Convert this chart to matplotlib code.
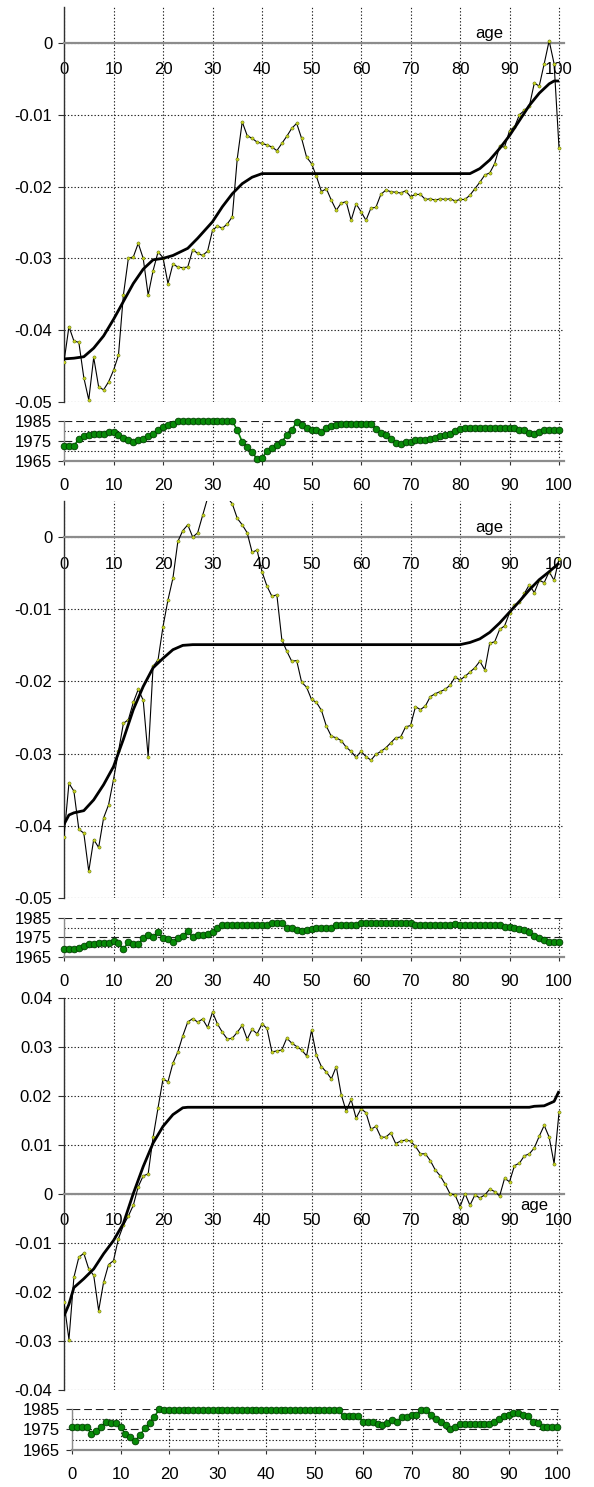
import numpy as np
import matplotlib
matplotlib.use("Agg")
import matplotlib.pyplot as plt
from matplotlib.ticker import FuncFormatter

plt.rcParams['font.family'] = ['Liberation Sans', 'DejaVu Sans']

# ---- data ----
ages = list(range(101))

p1_raw = [-0.0444, -0.0395, -0.0415, -0.0417, -0.0466, -0.0497, -0.0438, -0.0479, -0.0483, -0.0472,
          -0.0456, -0.0435, -0.0351, -0.0300, -0.0298, -0.0279, -0.0300, -0.0351, -0.0317, -0.0291,
          -0.0299, -0.0335, -0.0308, -0.0312, -0.0313, -0.0312, -0.0288, -0.0293, -0.0296, -0.0290,
          -0.0261, -0.0255, -0.0258, -0.0252, -0.0242, -0.0161, -0.0110, -0.0129, -0.0133, -0.0138,
          -0.0140, -0.0142, -0.0145, -0.0150, -0.0140, -0.0130, -0.0119, -0.0112, -0.0133, -0.0159,
          -0.0168, -0.0186, -0.0207, -0.0203, -0.0219, -0.0233, -0.0223, -0.0221, -0.0247, -0.0224,
          -0.0235, -0.0247, -0.0230, -0.0229, -0.0211, -0.0205, -0.0207, -0.0208, -0.0209, -0.0206,
          -0.0214, -0.0211, -0.0211, -0.0218, -0.0217, -0.0219, -0.0217, -0.0218, -0.0217, -0.0220,
          -0.0218, -0.0218, -0.0212, -0.0203, -0.0194, -0.0184, -0.0181, -0.0168, -0.0144, -0.0145,
          -0.0122, -0.0117, -0.0100, -0.0094, -0.0088, -0.0056, -0.0060, -0.0029, 0.0003, -0.0029,
          -0.0147]
p1_smooth_ages = [0, 2, 4, 6, 8, 10, 12, 14, 16, 18, 20, 22, 25, 27, 30, 32, 34, 36, 38, 40,
                  82, 84, 86, 88, 90, 92, 94, 96, 98, 99, 100]
p1_smooth = [-0.0440, -0.0439, -0.0437, -0.0425, -0.0408, -0.0385, -0.0360, -0.0335, -0.0315, -0.0302,
             -0.0300, -0.0296, -0.0286, -0.0272, -0.0249, -0.0228, -0.0210, -0.0196, -0.0187, -0.0182,
             -0.0182, -0.0175, -0.0163, -0.0147, -0.0129, -0.0108, -0.0087, -0.0070, -0.0057, -0.0053,
             -0.0053]
p1_year = ([1972.4] * 3 + [1976.2, 1977.4, 1977.9] + [1978.4] * 3 + [1979.4] * 2 +
           [1977.9, 1976.7, 1975.7, 1974.6, 1975.4, 1976.2, 1977.4, 1978.7, 1980.7, 1982.0, 1982.9, 1983.3] +
           [1985.0] * 12 +
           [1980.4, 1974.6, 1972.0, 1969.6, 1965.8, 1966.3, 1970.1, 1971.3, 1972.9, 1974.6, 1977.9,
            1980.4, 1984.5, 1982.9, 1981.5, 1980.7, 1980.4, 1979.5, 1981.7, 1982.5, 1982.9] +
           [1983.7] * 7 +
           [1981.2, 1979.0, 1977.9, 1976.2, 1973.8, 1973.3, 1974.6, 1974.6, 1975.4, 1975.4, 1975.7,
            1976.2, 1976.7, 1977.4, 1977.9, 1978.7, 1979.9, 1980.9] +
           [1981.7] * 11 +
           [1980.7, 1980.4, 1979.2, 1978.4, 1979.5] + [1980.4] * 4)

p2_raw = [-0.0415, -0.0341, -0.0352, -0.0405, -0.0410, -0.0463, -0.0419, -0.0430, -0.0389, -0.0371,
          -0.0336, -0.0297, -0.0258, -0.0253, -0.0229, -0.0211, -0.0226, -0.0304, -0.0179, -0.0170,
          -0.0124, -0.0087, -0.0057, -0.0006, 0.0009, 0.0017, 0.0000, 0.0006, 0.0030, 0.0054,
          0.0075, 0.0080, 0.0065, 0.0055, 0.0046, 0.0026, 0.0017, 0.0006, -0.0021, -0.0018,
          -0.0048, -0.0068, -0.0082, -0.0080, -0.0142, -0.0158, -0.0172, -0.0171, -0.0201, -0.0208,
          -0.0225, -0.0229, -0.0240, -0.0262, -0.0276, -0.0278, -0.0282, -0.0291, -0.0297, -0.0305,
          -0.0297, -0.0304, -0.0309, -0.0301, -0.0297, -0.0292, -0.0285, -0.0278, -0.0277, -0.0263,
          -0.0261, -0.0235, -0.0239, -0.0234, -0.0221, -0.0217, -0.0214, -0.0211, -0.0205, -0.0194,
          -0.0198, -0.0193, -0.0187, -0.0181, -0.0172, -0.0184, -0.0147, -0.0145, -0.0128, -0.0123,
          -0.0105, -0.0094, -0.0090, -0.0078, -0.0066, -0.0077, -0.0060, -0.0063, -0.0048, -0.0060,
          -0.0030]
p2_smooth_ages = [0, 1, 2, 4, 6, 8, 10, 12, 14, 16, 18, 20, 22, 24, 26,
                  80, 82, 84, 86, 88, 90, 92, 94, 96, 98, 100]
p2_smooth = [-0.0398, -0.0385, -0.0382, -0.0379, -0.0364, -0.0343, -0.0318, -0.0280, -0.0239, -0.0207,
             -0.0181, -0.0168, -0.0156, -0.0150, -0.0149,
             -0.0149, -0.0146, -0.0141, -0.0132, -0.0119, -0.0104, -0.0089, -0.0073, -0.0059, -0.0048,
             -0.0036]
p2_year = ([1969.1] * 3 + [1969.6, 1970.7, 1971.7, 1971.7] + [1972.3] * 3 +
           [1973.3, 1972.0, 1969.1, 1972.5, 1971.7, 1971.7, 1974.5, 1976.4, 1975.3, 1977.7, 1974.5,
            1974.1, 1972.8, 1974.5, 1975.6, 1978.5, 1975.0, 1976.1, 1976.1, 1977.0, 1977.7, 1980.1] +
           [1981.4] * 10 + [1982.2] * 3 +
           [1980.1, 1979.8, 1979.0, 1978.2, 1978.8, 1979.3] + [1980.1] * 4 + [1981.4] * 5 +
           [1982.2] * 11 + [1981.2] * 8 + [1982.0] + [1981.2] * 9 +
           [1980.4, 1980.4, 1980.1, 1979.3, 1978.8, 1977.7, 1975.8, 1974.5, 1973.6] + [1972.8] * 3)

p3_raw = [-0.0221, -0.0297, -0.0170, -0.0129, -0.0121, -0.0153, -0.0166, -0.0238, -0.0180, -0.0144,
          -0.0136, -0.0091, -0.0064, -0.0045, -0.0023, 0.0015, 0.0037, 0.0041, 0.0116, 0.0176,
          0.0235, 0.0229, 0.0267, 0.0290, 0.0323, 0.0351, 0.0358, 0.0351, 0.0357, 0.0340,
          0.0371, 0.0347, 0.0330, 0.0316, 0.0318, 0.0330, 0.0344, 0.0316, 0.0336, 0.0327,
          0.0347, 0.0338, 0.0290, 0.0292, 0.0294, 0.0318, 0.0308, 0.0301, 0.0294, 0.0282,
          0.0334, 0.0283, 0.0260, 0.0249, 0.0235, 0.0260, 0.0203, 0.0169, 0.0193, 0.0155,
          0.0174, 0.0166, 0.0132, 0.0138, 0.0116, 0.0116, 0.0125, 0.0103, 0.0108, 0.0110,
          0.0108, 0.0097, 0.0082, 0.0082, 0.0068, 0.0049, 0.0037, 0.0020, 0.0000, -0.0002,
          -0.0026, 0.0001, -0.0023, -0.0002, -0.0008, -0.0002, 0.0010, 0.0005, -0.0004, 0.0032,
          0.0025, 0.0058, 0.0063, 0.0078, 0.0082, 0.0094, 0.0118, 0.0140, 0.0116, 0.0062,
          0.0167]
p3_smooth_ages = [0, 1, 2, 4, 6, 8, 10, 12, 14, 16, 18, 20, 22, 24, 25, 94, 95, 97, 99, 100]
p3_smooth = [-0.0249, -0.0225, -0.0191, -0.0173, -0.0153, -0.0122, -0.0095, -0.0060, 0.0001, 0.0056,
             0.0104, 0.0138, 0.0162, 0.0176, 0.0177, 0.0177, 0.0179, 0.0180, 0.0189, 0.0210]
p3_year = ([1976.0] * 4 +
           [1973.0, 1974.3, 1976.3, 1978.8, 1978.0, 1978.0, 1976.0, 1973.0, 1971.4, 1969.4, 1972.2,
            1975.5, 1978.3, 1981.3, 1985.0] +
           [1984.4] * 37 + [1981.4] * 4 + [1978.9] * 3 +
           [1977.8, 1977.3, 1978.0, 1979.8, 1978.9, 1981.3, 1981.3, 1982.2, 1982.2, 1984.3, 1984.3,
            1982.2, 1980.1, 1978.6, 1977.3, 1975.0, 1976.0] +
           [1977.8] * 7 +
           [1978.9, 1980.1, 1981.7, 1982.2, 1983.0, 1983.0, 1982.2, 1981.4, 1978.9, 1978.3] +
           [1976.0] * 4)

# ---- layout in pixels ----
W, H = 594, 1487
fig = plt.figure(figsize=(W / 100, H / 100), dpi=100)


def rect(left, top, right, bottom):
    return [left / W, 1 - bottom / H, (right - left) / W, (bottom - top) / H]


dot = (0, (1.2, 1.8))
dash = (0, (7, 3.5))
fmt = FuncFormatter(lambda v, p: f"{round(v, 4) + 0.0:g}")


def draw_panel(main_box, strip_box, raw, sm_x, sm_y, years, ylim, yticks, age_xy, age_above):
    ax = fig.add_axes(rect(*main_box))
    ax.plot(ages, raw, color='black', lw=0.8, marker='o', ms=2.3,
            mfc='#c8d41e', mec='#4a5a00', mew=0.3, zorder=3)
    ax.plot(sm_x, sm_y, color='black', lw=2.0, zorder=4, solid_capstyle='butt')
    ax.set_xlim(0, 101)
    ax.set_ylim(*ylim)
    ax.set_xticks(range(0, 101, 10))
    ax.set_yticks(yticks)
    ax.yaxis.set_major_formatter(fmt)
    ax.grid(True, linestyle=dot, color='#202020', lw=0.8)
    ax.set_axisbelow(True)
    for s in ('top', 'right'):
        ax.spines[s].set_visible(False)
    ax.spines['bottom'].set_position(('data', 0))
    ax.spines['bottom'].set_color('#8c8c8c')
    ax.spines['bottom'].set_linewidth(1.6)
    ax.spines['left'].set_color('#303030')
    ax.spines['left'].set_linewidth(1.0)
    ax.tick_params(axis='x', length=0, pad=14, labelsize=12)
    ax.tick_params(axis='y', length=4.5, width=0.8, color='#303030', pad=4, labelsize=12)
    if age_above:
        ax.annotate('age', xy=age_xy, xytext=(0, 1.5), textcoords='offset points',
                    ha='center', va='bottom', fontsize=12)
    else:
        ax.annotate('age', xy=age_xy, xytext=(0, -3), textcoords='offset points',
                    ha='center', va='top', fontsize=12)

    sx = fig.add_axes(rect(*strip_box))
    for yv, ls in ((1985, dash), (1980, dot), (1975, dash), (1970, dot)):
        sx.axhline(yv, color='#202020', lw=0.8, linestyle=ls, zorder=1)
    sx.plot(ages, years, color='#008000', lw=1.2, marker='o', ms=4.8,
            mfc='#078a07', mec='#004000', mew=0.6, clip_on=False, zorder=3)
    sx.set_xlim(0, 101)
    sx.set_ylim(1965, 1985)
    sx.set_xticks(range(0, 101, 10))
    sx.set_yticks([1965, 1975, 1985])
    sx.grid(True, axis='x', linestyle=dot, color='#202020', lw=0.8)
    sx.set_axisbelow(True)
    for s in ('top', 'right'):
        sx.spines[s].set_visible(False)
    sx.spines['bottom'].set_color('#8c8c8c')
    sx.spines['bottom'].set_linewidth(1.6)
    sx.spines['left'].set_color('#8c8c8c')
    sx.spines['left'].set_linewidth(1.0)
    sx.tick_params(axis='x', length=3, width=0.8, color='#303030', pad=9, labelsize=12)
    sx.tick_params(axis='y', length=4.5, width=0.8, color='#303030', pad=4, labelsize=12)


neg_ticks = [-0.05, -0.04, -0.03, -0.02, -0.01, 0.0]
draw_panel((64, 7, 564, 402), (64, 421, 564, 461), p1_raw, p1_smooth_ages, p1_smooth, p1_year,
           (-0.05, 0.005), neg_ticks, (86, 0), True)
draw_panel((64, 501, 564, 898), (64, 918, 564, 957), p2_raw, p2_smooth_ages, p2_smooth, p2_year,
           (-0.05, 0.005), neg_ticks, (86, 0), True)
draw_panel((64, 998, 564, 1390), (72, 1409, 562, 1450), p3_raw, p3_smooth_ages, p3_smooth, p3_year,
           (-0.04, 0.04), [-0.04, -0.03, -0.02, -0.01, 0.0, 0.01, 0.02, 0.03, 0.04], (95, 0), False)

fig.savefig('out.png', dpi=100, facecolor='white')
